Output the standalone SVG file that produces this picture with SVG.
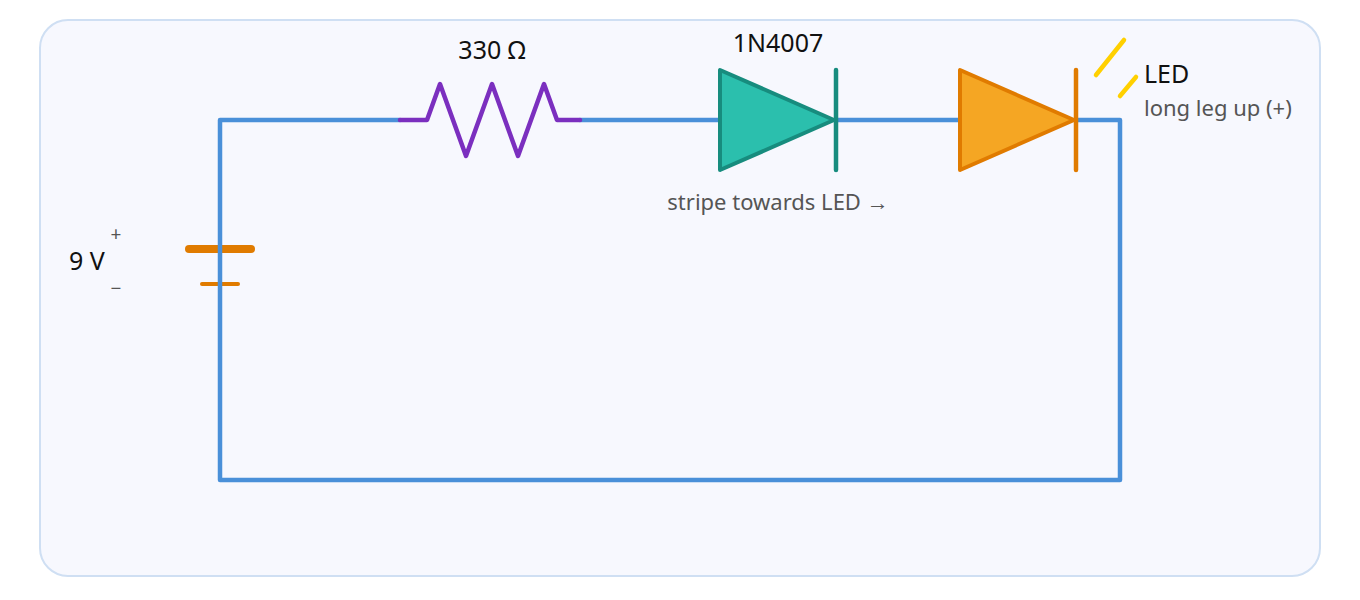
<svg xmlns="http://www.w3.org/2000/svg" width="1360" height="600" viewBox="0 0 1360 600">
<style>
text{font-family:"Segoe UI","Noto Sans","Open Sans",sans-serif}
.w{fill:none;stroke:#4a90d9;stroke-width:4.5;stroke-linecap:round;stroke-linejoin:round}
.lbl{font-size:25px;fill:#111}
.sub{font-size:22px;fill:#555}
</style>
<rect x="40" y="20" width="1280" height="556" rx="28" fill="#f7f8fe" stroke="#cfdff3" stroke-width="2"/>
<g id="battery">
<line x1="189" y1="249" x2="251" y2="249" stroke="#e07b00" stroke-width="8" stroke-linecap="round"/>
<line x1="202" y1="284" x2="238" y2="284" stroke="#e07b00" stroke-width="4" stroke-linecap="round"/>
<text x="69" y="270" class="lbl">9 V</text>
<text x="116" y="241" font-size="19" fill="#555" text-anchor="middle">+</text>
<text x="116" y="295" font-size="19" fill="#555" text-anchor="middle">−</text>
</g>
<g id="wires">
<polyline class="w" points="400,120 220,120 220,480 1120,480 1120,120 1076,120"/>
<line class="w" x1="580" y1="120" x2="720" y2="120"/>
<line class="w" x1="836" y1="120" x2="960" y2="120"/>
</g>
<g id="resistor">
<polyline points="400,120 427,120 440,84 466,156 492,84 518,156 544,84 557,120 580,120" fill="none" stroke="#7b2fbf" stroke-width="4.5" stroke-linejoin="round" stroke-linecap="round"/>
<text x="492" y="59" class="lbl" text-anchor="middle">330 Ω</text>
</g>
<g id="diode">
<polygon points="720,70 720,170 834,120" fill="#2bbfad" stroke="#178c7e" stroke-width="4" stroke-linejoin="round"/>
<line x1="836" y1="70" x2="836" y2="170" stroke="#178c7e" stroke-width="4.5" stroke-linecap="round"/>
<text x="778" y="52" class="lbl" text-anchor="middle">1N4007</text>
<text x="778" y="210" class="sub" text-anchor="middle">stripe towards LED →</text>
</g>
<g id="led">
<polygon points="960,70 960,170 1074,120" fill="#f5a623" stroke="#e07b00" stroke-width="4" stroke-linejoin="round"/>
<line x1="1076" y1="70" x2="1076" y2="170" stroke="#e07b00" stroke-width="4.5" stroke-linecap="round"/>
<line x1="1096" y1="75" x2="1124" y2="40" stroke="#ffd000" stroke-width="4.5" stroke-linecap="round"/>
<line x1="1120" y1="96" x2="1136" y2="77" stroke="#ffd000" stroke-width="4.5" stroke-linecap="round"/>
<text x="1144" y="83" class="lbl">LED</text>
<text x="1144" y="116" class="sub">long leg up (+)</text>
</g>
</svg>
